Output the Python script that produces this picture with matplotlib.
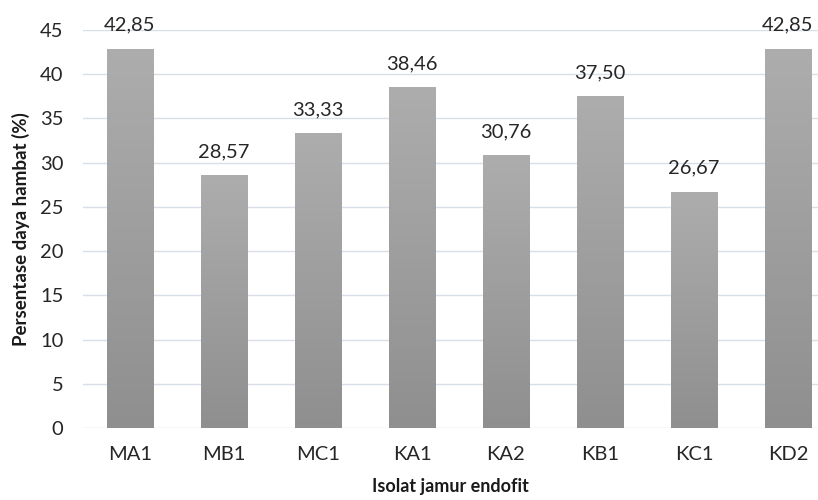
import numpy as np
import matplotlib
matplotlib.use("Agg")
from matplotlib import pyplot as plt
from matplotlib.colors import LinearSegmentedColormap

isolat = ['MA1', 'MB1', 'MC1', 'KA1', 'KA2', 'KB1', 'KC1', 'KD2']
daya_hambat = [42.85, 28.57, 33.33, 38.46, 30.76, 37.50, 26.67, 42.85]

plt.rcParams['font.family'] = ['Lato', 'DejaVu Sans']

fig = plt.figure(figsize=(8.18, 5), dpi=100)
ax = fig.add_axes([83 / 818, 1 - 428 / 500, 1 - 83 / 818, (428 - 30) / 500])

x = np.arange(len(isolat))
bars = ax.bar(x, daya_hambat, width=0.49, color='none', zorder=2)

# vertical grey gradient inside each bar
grad = LinearSegmentedColormap.from_list('grey', ['#8f8f8f', '#adadad'])
g = np.linspace(0, 1, 256).reshape(-1, 1)
for b in bars:
    x0, w, h = b.get_x(), b.get_width(), b.get_height()
    ax.imshow(g, cmap=grad, origin='lower', aspect='auto',
              extent=[x0, x0 + w, 0, h], zorder=2)

for xi, v in zip(x, daya_hambat):
    ax.annotate(f"{v:.2f}".replace('.', ','), (xi, v), xytext=(0, 11),
                textcoords='offset points', ha='center', va='bottom',
                fontsize=14.5, color='#262626')

ax.set_xlim(-0.5, 7.32)
ax.set_ylim(0, 45)
ax.set_yticks(range(0, 46, 5))
ax.set_xticks(x)
ax.set_xticklabels(isolat)
ax.tick_params(axis='both', length=0, labelsize=14.5, colors='#262626')
ax.tick_params(axis='x', pad=13)
ax.tick_params(axis='y', pad=14)
ax.grid(True, axis='y', color='#d9dfe8', lw=1, zorder=0)
for s in ax.spines.values():
    s.set_visible(False)
ax.set_axisbelow(True)

ax.set_ylabel('Persentase daya hambat (%)', fontsize=13.5, fontweight='bold',
              color='#1a1a1a', labelpad=7)
ax.set_xlabel('Isolat jamur endofit', fontsize=13, fontweight='bold',
              color='#1a1a1a', labelpad=11)

fig.savefig('out.png', dpi=100)
